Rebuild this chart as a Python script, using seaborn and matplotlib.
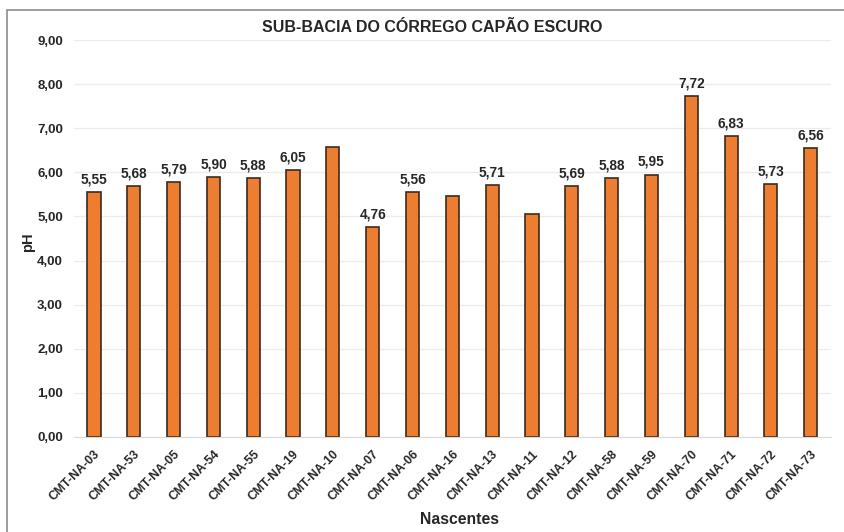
import matplotlib
matplotlib.use("Agg")
import pandas as pd
import seaborn as sns
import matplotlib.pyplot as plt
from matplotlib.patches import Rectangle

nascentes = ["CMT-NA-03", "CMT-NA-53", "CMT-NA-05", "CMT-NA-54", "CMT-NA-55",
             "CMT-NA-19", "CMT-NA-10", "CMT-NA-07", "CMT-NA-06", "CMT-NA-16",
             "CMT-NA-13", "CMT-NA-11", "CMT-NA-12", "CMT-NA-58", "CMT-NA-59",
             "CMT-NA-70", "CMT-NA-71", "CMT-NA-72", "CMT-NA-73"]
ph = [5.55, 5.68, 5.79, 5.90, 5.88, 6.05, 6.57, 4.76, 5.56, 5.46,
      5.71, 5.06, 5.69, 5.88, 5.95, 7.72, 6.83, 5.73, 6.56]
# bars that carry no value label in the original
unlabeled = ["CMT-NA-10", "CMT-NA-16", "CMT-NA-11"]
yticks = [0, 1, 2, 3, 4, 5, 6, 7, 8, 9]

sns.set_style("white")
plt.rcParams['font.family'] = ['Liberation Sans', 'DejaVu Sans']

df = pd.DataFrame({'Nascente': nascentes, 'pH': ph})

fig = plt.figure(figsize=(8.45, 5.32), dpi=100)
ax = fig.add_axes([0.0876, 0.1786, 0.8954, 0.7462])

sns.barplot(data=df, x='Nascente', y='pH', color='#ED7D31', width=0.33,
            edgecolor='#3b2b1e', linewidth=1.2, saturation=1, ax=ax)

labels = ['' if n in unlabeled else f'{v:.2f}'.replace('.', ',')
          for n, v in zip(nascentes, ph)]
ax.bar_label(ax.containers[0], labels=labels, padding=4, fontsize=9.8,
             fontweight='bold', color='#262626')

ax.set_ylim(0, 9)
ax.set_yticks(yticks)
ax.set_yticklabels([f'{t:.2f}'.replace('.', ',') for t in yticks],
                   fontsize=9.5, fontweight='bold', color='#262626')
ax.set_xticks(range(len(nascentes)))
ax.set_xticklabels(nascentes, rotation=45, ha='right', rotation_mode='anchor',
                   fontsize=8.8, fontweight='bold', color='#262626')
ax.tick_params(axis='both', length=0, pad=8)
ax.grid(axis='y', color='#ececec', linewidth=1)
ax.set_axisbelow(True)
for side in ['left', 'right', 'top']:
    ax.spines[side].set_visible(False)
ax.spines['bottom'].set_color('#d9d9d9')

ax.set_xlabel('Nascentes', fontsize=11.3, fontweight='bold')
ax.xaxis.set_label_coords(0.51, -0.19)
ax.set_ylabel('pH', fontsize=10.5, fontweight='bold')
ax.yaxis.set_label_coords(-0.052, 0.49)
fig.text(432 / 845, 1 - 28 / 532, 'SUB-BACIA DO CÓRREGO CAPÃO ESCURO',
         fontsize=11.5, fontweight='bold', color='#262626',
         ha='center', va='center')

# outer frame of the chart area
fig.patches.append(Rectangle((7 / 845, -0.05), 1.2, 1 - 10 / 532 + 0.05,
                             transform=fig.transFigure, fill=False,
                             edgecolor='#8c8c8c', linewidth=1.2))

fig.savefig('out.png', dpi=100)
